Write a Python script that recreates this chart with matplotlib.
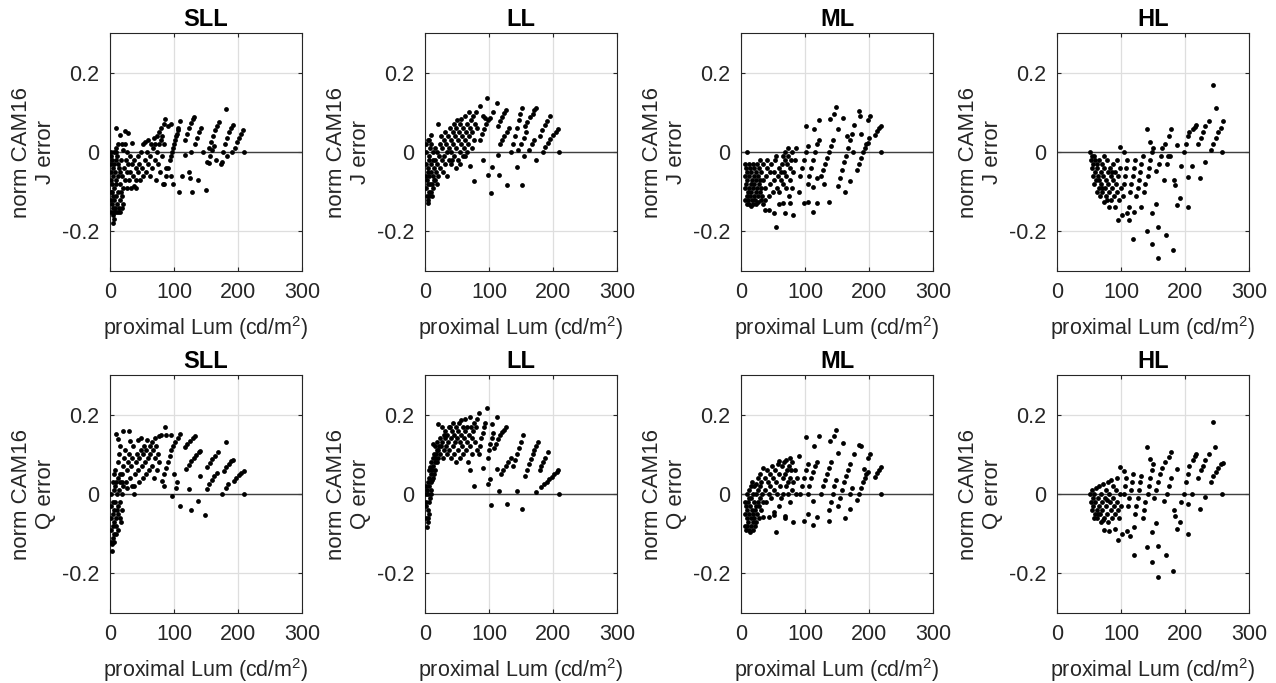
import numpy as np
import matplotlib
matplotlib.use('Agg')
import matplotlib.pyplot as plt

plt.rcParams['font.family'] = ['Liberation Sans', 'DejaVu Sans']
plt.rcParams['mathtext.fontset'] = 'custom'
plt.rcParams['mathtext.rm'] = 'Liberation Sans'
plt.rcParams['mathtext.it'] = 'Liberation Sans'

titles = ['SLL', 'LL', 'ML', 'HL']
ylabels = ['norm CAM16\nJ error', 'norm CAM16\nQ error']
xlabel = r'proximal Lum (cd/m$^2$)'
xticks = [0, 100, 200, 300]
yticks = [-0.2, 0, 0.2]

# (proximal luminance, normalised error) pairs
sll_j = [(1,0.0),(2,-0.01),(1,-0.03),(3,-0.02),(2,-0.05),(1,-0.07),(3,-0.08),(2,-0.10),(1,-0.12),(3,-0.13),
         (4,-0.16),(2,-0.15),(5,-0.18),(6,-0.17),(4,-0.11),(5,-0.06),(6,-0.03),(7,-0.09),(6,-0.12),(8,-0.14),
         (9,-0.15),(8,-0.05),(9,-0.08),(10,-0.11),(10,-0.02),(11,-0.13),(12,-0.06),(12,-0.15),(13,-0.10),(14,-0.04),
         (14,-0.14),(15,-0.12),(16,-0.08),(16,-0.15),(17,-0.02),(18,-0.11),(18,-0.14),(19,-0.06),(20,-0.09),(20,-0.13),
         (7,0.0),(9,0.0),(11,-0.01),(13,-0.03),(4,-0.04),(3,-0.10),(5,-0.14),(7,-0.15),(10,-0.07),(15,-0.05),(17,-0.10),
         (10,0.061),(16,0.044),(23,0.052),(28,0.048),(34,0.023),(18,0.019),(23,0.019),(13,0.02),(9,0.01),(27,0.0),(21,0.005),
         (22,-0.04),(24,-0.07),(25,-0.02),(26,-0.09),(27,-0.05),(28,-0.03),(30,-0.07),(31,-0.01),(32,-0.05),(33,-0.09),
         (35,-0.03),(36,-0.06),(38,-0.085),(38,-0.02),(40,-0.04),(41,-0.07),(41,-0.09),(43,-0.01),(44,-0.05),(46,-0.03),
         (47,-0.07),(48,0.0),(50,-0.04),(51,0.02),(52,-0.06),(54,-0.02),(55,0.025),(56,-0.05),(58,0.0),(59,-0.03),
         (60,0.03),(62,-0.06),(63,-0.01),(64,0.02),(66,-0.04),(67,0.01),(68,0.035),(70,-0.02),(71,0.02),(72,-0.07),
         (73,0.04),(74,0.0),(75,-0.03),(76,0.05),(77,0.02),(78,-0.05),(79,0.03),(80,0.06),(81,-0.01),(82,0.04),
         (83,-0.08),(84,0.07),(86,0.082),(85,0.02),(88,-0.04),(90,0.065),(96,0.07),
         (85,-0.08),(88,-0.06),(91,-0.04),(94,-0.02),(97,0.0),(100,0.02),(103,0.04),(106,0.055),(110,0.078),
         (95,-0.01),(98,0.01),(101,0.03),(104,0.045),(107,0.06),
         (96,-0.06),(99,-0.08),(108,-0.1),(112,-0.06),(123,-0.05),(125,-0.065),(128,-0.1),(138,-0.07),(150,-0.097),
         (117,-0.008),(127,0.0),
         (117,0.03),(120,0.045),(123,0.06),(126,0.072),(129,0.083),(132,0.089),
         (133,0.02),(136,0.035),(139,0.05),(142,0.06),(145,0.0),
         (152,-0.025),(155,0.01),(158,0.025),(161,0.04),(164,0.055),(167,0.065),(170,0.075),
         (154,-0.028),(157,-0.01),(160,0.005),(163,0.014),(165,-0.02),(175,-0.024),
         (174,-0.03),(177,0.0),(180,0.02),(183,0.035),(186,0.05),(189,0.06),(192,0.068),(181,0.108),
         (196,0.01),(199,0.025),(202,0.035),(205,0.045),(208,0.055),(210,0.0),(183,-0.01),(190,0.0)]

ll_j = [(1,0.0),(1,-0.03),(2,-0.06),(1,-0.09),(3,-0.11),(4,-0.128),(5,-0.12),(3,-0.07),(2,0.02),(4,0.03),
        (5,-0.04),(6,-0.1),(6,-0.01),(7,-0.06),(7,-0.11),(8,0.01),(8,-0.08),(9,-0.03),(9,-0.1),(10,-0.05),
        (10,0.02),(11,-0.08),(12,-0.02),(12,-0.06),(13,0.0),(13,-0.09),(14,-0.04),(15,-0.07),(15,0.01),(16,-0.02),
        (17,-0.05),(18,-0.08),(18,0.0),(19,-0.03),(20,-0.06),(10,0.044),(6,0.03),(21,0.07),(4,-0.05),(7,-0.02),
        (11,-0.11),(5,-0.08),(14,-0.07),
        (22,-0.01),(23,0.02),(24,-0.04),(25,0.04),(26,-0.02),(27,0.01),(28,-0.05),(29,0.03),(30,-0.01),(31,0.05),
        (32,-0.03),(33,0.02),(34,0.0),(35,-0.06),(36,0.04),(37,0.01),(38,-0.02),(39,0.06),(40,0.03),(41,0.0),
        (42,-0.02),(43,0.05),(44,0.02),(45,0.07),(46,-0.01),(47,0.04),(48,0.01),(49,0.06),(50,0.08),(51,0.03),
        (52,-0.02),(53,0.05),(54,0.0),(55,0.07),(56,0.02),(57,0.082),(58,0.04),(59,-0.01),(60,0.06),(61,0.01),
        (62,0.09),(63,0.03),(64,0.05),(65,0.0),(66,0.07),(67,0.02),(68,0.1),(69,0.04),(70,0.06),(72,0.08),
        (73,0.01),(74,0.05),(75,0.09),(76,0.03),(78,0.07),(80,0.1),(82,0.06),
        (86,0.116),(97,0.137),(112,0.123),(107,0.1),(90,0.09),(93,0.085),
        (86,0.03),(89,0.045),(92,0.058),(95,0.07),(98,0.08),(101,0.086),
        (114,0.065),(117,0.078),(120,0.088),(123,0.098),(127,0.107),
        (117,0.02),(120,0.03),(124,0.04),(128,0.05),(132,0.06),
        (138,0.02),(141,0.04),(144,0.06),(147,0.08),(149,0.095),(151,0.11),
        (146,0.005),(150,0.02),(154,0.035),(158,0.05),
        (156,0.065),(160,0.076),(164,0.087),(168,0.097),(171,0.105),(174,0.111),
        (163,0.005),(167,0.02),(171,0.03),
        (179,0.04),(183,0.055),(187,0.067),(191,0.078),(195,0.09),
        (184,0.0),(188,0.012),(192,0.022),(196,0.032),(200,0.042),(204,0.05),(208,0.057),(210,0.0),
        (70,-0.036),(76,-0.074),(90,-0.02),(99,-0.057),(104,-0.039),(103,-0.104),(116,-0.059),(128,-0.084),
        (144,-0.039),(152,-0.083),(174,-0.021),(154,-0.009),(114,-0.008),(135,0.0),(62,-0.01),(55,-0.03),
        (48,-0.04),(40,-0.03)]

ml_j = [(9,0.0),
        (6,-0.03),(6,-0.06),(7,-0.09),(7,-0.12),(8,-0.04),(8,-0.08),(9,-0.11),(9,-0.13),(10,-0.05),(10,-0.07),
        (11,-0.10),(11,-0.12),(12,-0.03),(12,-0.09),(13,-0.06),(13,-0.13),(14,-0.04),(14,-0.11),(15,-0.08),(15,-0.135),
        (16,-0.05),(16,-0.1),(17,-0.12),(17,-0.07),(18,-0.03),(18,-0.09),(19,-0.13),(20,-0.06),(20,-0.11),(21,-0.04),
        (21,-0.08),(22,-0.12),(23,-0.1),(23,-0.05),(24,-0.07),(24,-0.13),(25,-0.03),(25,-0.09),(26,-0.11),(27,-0.06),
        (27,-0.125),(28,-0.04),(28,-0.08),(29,-0.1),(30,-0.02),(30,-0.07),(31,-0.12),(32,-0.05),(32,-0.09),(33,-0.11),
        (34,-0.03),(34,-0.07),(35,-0.13),
        (37,-0.12),(38,-0.09),(39,-0.06),(40,-0.04),(41,-0.02),(44,-0.11),(45,-0.08),(46,-0.05),(47,-0.03),(50,-0.1),
        (51,-0.07),(52,-0.05),(53,-0.02),(55,-0.01),(57,-0.09),(58,-0.06),(59,-0.04),(60,-0.1),(62,-0.07),(63,-0.05),
        (64,-0.03),(65,-0.01),(66,-0.08),(67,-0.05),(68,-0.02),(69,0.0),(70,-0.09),(71,-0.06),(72,-0.03),(73,-0.01),
        (74,0.01),(75,-0.11),(76,-0.07),(77,-0.04),(78,-0.02),(79,0.0),(80,-0.09),(82,-0.05),(84,-0.02),(86,0.01),
        (38,-0.146),(44,-0.146),(52,-0.153),(55,-0.188),(69,-0.153),(81,-0.159),(65,-0.129),(76,-0.129),(98,-0.129),
        (104,-0.127),(113,-0.15),(118,-0.129),(137,-0.125),(163,-0.102),(171,-0.073),(112,-0.089),(118,-0.066),
        (90,-0.1),(60,-0.13),
        (92,-0.06),(95,-0.04),(98,-0.02),(101,0.0),(104,0.015),
        (101,0.065),(114,0.057),(122,0.08),(139,0.082),(149,0.114),(145,0.096),(160,0.086),(151,0.057),(176,0.069),
        (184,0.103),(186,0.09),(202,0.09),(199,0.08),
        (104,-0.08),(107,-0.06),(110,-0.04),(113,-0.02),(116,0.0),(119,0.02),(122,0.03),
        (125,-0.06),(128,-0.045),(131,-0.03),(134,-0.015),(137,0.0),(140,0.015),(143,0.03),(130,-0.08),
        (152,-0.085),(155,-0.065),(158,-0.045),(161,-0.025),(164,-0.01),(167,0.01),(170,0.03),(173,0.045),
        (181,-0.045),(184,-0.03),(187,-0.015),(190,0.0),(193,0.01),(196,0.02),(199,0.023),
        (210,0.044),(213,0.052),(216,0.06),(218,0.065),(218,0.0),(175,0.0),(165,0.04),(188,0.045),(200,0.035)]

hl_j = [(52,0.0),(53,-0.02),(54,-0.04),(55,-0.01),(56,-0.06),(57,-0.03),(58,-0.08),(59,-0.05),(60,-0.02),(61,-0.07),
        (62,-0.1),(63,-0.04),(64,-0.06),(65,-0.09),(66,-0.02),(67,-0.11),(68,-0.05),(69,-0.08),(70,-0.03),(71,-0.1),
        (72,-0.06),(73,-0.127),(74,-0.04),(75,-0.09),(76,-0.07),(77,-0.11),(78,-0.02),(79,-0.05),(80,-0.08),(81,-0.138),
        (82,-0.1),(83,-0.04),(84,-0.06),(85,-0.12),(86,-0.09),(87,-0.03),(88,-0.07),(89,-0.11),(90,-0.139),(91,-0.05),
        (92,-0.08),(93,-0.02),(94,-0.1),(95,-0.171),(96,-0.06),(97,-0.12),(98,0.013),(99,-0.04),(100,-0.09),(58,-0.01),
        (62,-0.03),(66,-0.07),(70,-0.09),(74,-0.01),(78,-0.12),(86,-0.05),
        (102,-0.159),(105,0.0),(103,-0.11),(104,-0.08),(106,-0.06),(108,-0.04),(109,-0.154),(110,-0.02),(112,-0.138),
        (113,-0.171),(114,-0.1),(116,-0.08),(118,-0.06),(119,-0.22),(120,-0.04),(121,-0.15),(122,-0.02),(124,-0.11),
        (126,-0.09),(128,-0.07),(130,-0.05),(131,-0.138),(132,-0.03),(134,-0.01),(136,-0.1),(138,-0.08),(140,0.057),
        (140,-0.198),(142,-0.06),(144,-0.04),(145,0.025),(146,-0.02),(148,0.0),(149,-0.154),(149,-0.232),(150,0.01),
        (154,-0.132),(154,-0.049),(158,-0.19),(158,-0.268),(160,-0.03),(162,-0.01),(164,0.01),(167,-0.07),(168,0.02),
        (171,-0.209),(172,-0.03),(174,-0.01),(175,0.041),(177,-0.011),(178,0.057),(181,-0.246),(183,-0.07),(185,-0.083),
        (187,0.017),(188,-0.133),(192,-0.115),(193,-0.036),(198,0.0),(201,0.02),(204,0.04),(204,-0.062),(205,-0.138),
        (207,0.05),(211,-0.036),(212,0.057),(215,0.063),(217,0.069),(220,0.02),(223,-0.066),(225,0.035),(228,0.05),
        (232,-0.026),(232,0.065),(238,0.078),(240,0.006),(243,0.168),(244,0.02),(248,0.11),(248,0.035),(252,0.05),
        (256,0.06),(258,0.0),(260,0.078)]

sll_q = [(1,0.0),(1,-0.03),(2,-0.06),(2,-0.09),(3,-0.126),(3,-0.143),(4,-0.11),(4,-0.02),(5,-0.05),(5,-0.08),
         (6,0.01),(6,-0.1),(7,-0.04),(7,-0.07),(8,0.02),(8,-0.02),(9,-0.06),(10,0.03),(10,-0.08),(11,0.0),
         (11,-0.04),(12,-0.03),(12,0.04),(13,-0.05),(14,0.01),(15,-0.06),(15,0.03),(16,-0.02),(17,-0.07),(18,0.0),
         (19,-0.04),(20,0.02),(2,-0.12),(6,-0.12),(9,-0.1),(13,-0.09),
         (4,0.03),(6,0.05),(8,0.06),(10,0.151),(13,0.139),(21,0.16),(29,0.16),(31,0.134),(12,0.08),(14,0.1),
         (16,0.12),(18,0.05),(20,0.07),(22,0.09),(24,0.11),(25,0.03),(26,0.06),(28,0.08),(30,0.1),(32,0.04),
         (33,0.07),(35,0.09),(36,0.12),(38,0.02),(39,0.05),(40,0.08),(42,0.1),(43,0.135),(44,0.06),(45,0.03),
         (46,0.09),(48,0.11),(49,0.14),(50,0.07),(51,0.04),(52,0.1),(53,0.12),(55,0.08),(56,0.05),(57,0.11),
         (58,0.135),(60,0.09),(61,0.06),(62,0.12),(63,0.1),(65,0.07),(66,0.13),(67,0.11),(68,0.04),(70,0.09),
         (71,0.14),(72,0.12),(73,0.06),(75,0.1),(76,0.145),(77,0.08),(15,0.05),(27,0.015),(34,0.02),(37,0.0),(18,0.03),
         (86,0.17),(79,0.148),(87,0.148),(95,0.148),
         (81,0.034),(84,0.05),(87,0.065),(90,0.08),(93,0.095),(96,0.11),(99,0.12),(102,0.13),(106,0.14),(110,0.151),
         (117,0.118),(121,0.126),(125,0.133),(129,0.14),(133,0.147),
         (119,0.063),(123,0.072),(127,0.082),(131,0.09),(135,0.098),(139,0.105),(141,0.109),
         (123,0.013),(140,0.046),(97,-0.004),(103,0.015),(85,0.02),(100,0.05),(105,0.03),
         (152,0.067),(156,0.078),(160,0.087),(164,0.096),(168,0.105),
         (151,0.013),(155,0.025),(159,0.035),(163,0.045),(167,0.052),
         (175,0.0),(182,0.13),(178,0.059),(182,0.068),(186,0.076),(189,0.082),(192,0.086),(181,0.015),(185,0.025),
         (193,0.034),(197,0.041),(201,0.048),(205,0.053),(209,0.058),(210,0.0),
         (109,-0.029),(126,-0.04),(138,-0.017),(149,-0.053)]

ll_q = [(1,0.0),(1,-0.03),(2,-0.06),(3,-0.084),(2,-0.02),(3,0.01),(4,-0.04),(4,0.03),(5,-0.07),(5,0.0),
        (6,0.04),(6,-0.02),(7,0.06),(7,0.02),(8,0.067),(8,-0.01),(9,0.05),(9,0.03),(10,0.08),(10,0.01),
        (11,0.06),(12,0.09),(12,0.04),(13,0.126),(13,0.07),(14,0.1),(15,0.08),(15,0.12),(16,0.06),(17,0.1),
        (18,0.11),(18,0.08),(19,0.13),(20,0.09),(21,0.176),(21,0.11),(22,0.12),(23,0.1),(24,0.14),(25,0.12),
        (26,0.168),(27,0.13),(28,0.09),(29,0.15),(30,0.11),(31,0.14),(32,0.16),(33,0.12),(34,0.1),(35,0.15),
        (36,0.13),(37,0.17),(38,0.11),(39,0.17),(40,0.14),(41,0.09),(42,0.16),(43,0.12),(44,0.18),(45,0.15),
        (46,0.1),(47,0.13),(48,0.17),(49,0.08),(50,0.14),(51,0.16),(52,0.11),(53,0.18),(54,0.13),(55,0.09),
        (56,0.15),(57,0.187),(58,0.12),(59,0.17),(60,0.1),(61,0.14),(62,0.16),(63,0.19),(64,0.11),(65,0.13),
        (66,0.17),(67,0.08),(68,0.15),(70,0.193),(70,0.06),(71,0.12),(72,0.17),(73,0.14),(74,0.1),(75,0.16),
        (76,0.021),(76,0.18),(78,0.13),(80,0.17),(81,0.11),(82,0.19),(4,-0.06),(6,-0.05),(2,0.02),(11,0.035),
        (14,0.05),(16,0.09),(9,0.0),
        (85,0.203),(97,0.218),(112,0.193),(105,0.176),(90,0.066),(99,0.025),(113,0.063),(102,0.038),(116,0.008),(144,0.008),
        (84,0.1),(86,0.12),(88,0.14),(90,0.155),(92,0.17),(94,0.18),
        (98,0.09),(100,0.11),(102,0.125),(104,0.14),(106,0.155),
        (108,0.115),(111,0.127),(114,0.138),(117,0.148),(120,0.156),(124,0.162),(127,0.168),
        (118,0.05),(122,0.06),(126,0.07),(130,0.08),(134,0.09),
        (138,0.07),(141,0.085),(144,0.1),(147,0.115),(150,0.13),(153,0.15),
        (156,0.045),(159,0.06),(162,0.075),(165,0.088),(168,0.1),(171,0.112),(174,0.122),(177,0.13),(174,0.004),
        (179,0.06),(182,0.07),(185,0.08),(188,0.09),(192,0.105),
        (182,0.017),(186,0.024),(190,0.03),(194,0.037),(198,0.044),(202,0.05),(206,0.056),(208,0.06),(210,0.0),
        (103,-0.027),(128,-0.025),(152,-0.039)]

ml_q = [(6,-0.02),(6,-0.05),(7,-0.08),(8,-0.03),(8,-0.09),(9,0.0),(9,-0.06),(10,-0.04),(10,-0.08),(11,-0.02),
        (11,-0.07),(12,0.01),(12,-0.05),(13,-0.09),(14,-0.097),(14,-0.03),(15,0.02),(15,-0.06),(16,-0.01),(16,-0.08),
        (17,0.03),(17,-0.04),(18,-0.07),(19,0.0),(19,-0.05),(20,-0.02),(20,-0.06),(21,0.02),(22,-0.04),(22,-0.08),
        (23,0.0),(23,-0.03),(24,0.025),(25,-0.05),(26,0.01),(26,-0.02),(27,0.04),(28,-0.03),(29,0.02),(30,-0.01),
        (30,0.05),(31,-0.04),(32,0.03),(33,0.0),(34,0.065),(34,-0.02),(35,-0.059),(13,-0.01),(18,-0.09),(24,-0.07),
        (28,-0.06),
        (37,0.04),(38,0.01),(39,-0.02),(40,0.06),(42,0.03),(43,0.0),(44,-0.059),(45,0.05),(46,0.02),(47,-0.01),
        (48,0.07),(50,0.04),(51,-0.052),(52,0.01),(53,0.06),(55,-0.097),(55,0.03),(56,0.0),(58,0.075),(60,0.084),
        (60,0.05),(61,0.02),(62,-0.01),(64,0.07),(65,0.04),(66,0.0),(67,0.08),(68,0.05),(69,-0.056),(70,0.02),
        (71,0.085),(72,0.06),(73,0.03),(74,0.0),(75,0.07),(76,0.09),(77,0.04),(78,0.06),(79,0.01),(80,0.08),
        (81,-0.071),(82,0.03),(84,0.06),(86,0.0),(88,0.04),(90,0.097),
        (102,0.143),(122,0.147),(114,0.122),(139,0.134),(149,0.162),(145,0.145),(151,0.103),(160,0.128),(176,0.101),
        (184,0.124),(187,0.12),(192,0.063),(202,0.101),(199,0.09),
        (98,-0.067),(104,-0.05),(113,-0.077),(118,-0.059),(137,-0.067),(163,-0.061),(171,-0.039),(112,-0.017),
        (52,-0.045),(69,-0.06),(60,-0.03),(76,-0.02),
        (92,0.0),(95,0.02),(98,0.04),(101,0.06),(104,0.075),
        (104,0.0),(107,0.02),(110,0.04),(113,0.055),(116,0.07),(119,0.08),
        (125,0.0),(128,0.02),(131,0.035),(134,0.05),(137,0.065),(140,0.08),
        (137,-0.04),(140,-0.02),(143,0.0),(146,0.02),(149,0.035),
        (152,-0.03),(155,-0.01),(158,0.01),(161,0.03),(164,0.045),(167,0.06),(170,0.075),(170,0.0),(174,0.015),
        (181,-0.015),(184,0.0),(187,0.015),(190,0.03),(193,0.04),(196,0.05),(199,0.055),
        (210,0.044),(213,0.052),(216,0.06),(218,0.068),(218,0.0)]

hl_q = [(52,0.0),(53,-0.02),(54,0.01),(55,-0.04),(56,-0.01),(57,-0.03),(58,0.0),(59,-0.05),(60,-0.02),(61,0.015),
        (62,-0.04),(63,-0.06),(64,-0.01),(65,-0.03),(66,0.02),(67,-0.05),(68,-0.07),(69,0.0),(70,-0.02),(71,-0.04),
        (72,0.025),(73,-0.092),(74,-0.06),(75,-0.01),(76,0.01),(77,-0.03),(78,-0.05),(79,0.03),(80,-0.07),(81,-0.094),
        (82,0.0),(83,-0.02),(84,-0.04),(85,0.035),(86,-0.06),(87,-0.01),(88,0.02),(89,-0.03),(90,-0.088),(91,-0.05),
        (92,0.01),(93,-0.02),(94,0.04),(95,-0.116),(96,-0.04),(97,-0.06),(98,0.0),(99,0.067),(100,-0.03),(58,-0.06),
        (64,-0.05),(72,-0.065),(78,-0.015),
        (102,-0.101),(104,0.0),(105,0.059),(106,0.02),(108,0.04),(110,-0.094),(111,-0.03),(113,-0.01),(114,-0.107),
        (115,0.01),(117,0.03),(119,0.05),(120,-0.155),(121,-0.084),(122,-0.05),(124,-0.03),(126,-0.01),(128,0.01),
        (130,0.03),(132,0.045),(134,-0.06),(136,-0.04),(138,-0.02),(140,0.118),(140,-0.134),(142,0.0),(144,0.02),
        (145,0.088),(146,0.04),(148,0.06),(149,-0.171),(149,-0.097),(150,0.075),(152,-0.01),(154,-0.073),(155,0.01),
        (158,-0.208),(158,-0.132),(158,0.03),(161,0.05),(164,0.065),(167,-0.017),(168,0.08),(171,-0.153),(172,0.0),
        (175,0.094),(175,0.02),(178,0.107),(178,0.04),(181,-0.193),(183,-0.04),(185,-0.055),(187,0.063),(188,-0.088),
        (192,-0.071),(193,-0.02),(198,0.0),(201,0.03),(204,0.05),(204,-0.024),(205,-0.101),(207,0.07),(211,0.0),
        (212,0.085),(215,0.095),(217,0.1),(220,0.04),(223,-0.038),(225,0.06),(228,0.07),(232,-0.007),(232,0.085),
        (238,0.1),(240,0.03),(243,0.181),(244,0.045),(247,0.119),(248,0.055),(252,0.065),(256,0.075),(258,0.0),
        (260,0.077)]

panels = [[sll_j, ll_j, ml_j, hl_j], [sll_q, ll_q, ml_q, hl_q]]

W, H = 1276, 683
fig = plt.figure(figsize=(W / 100, H / 100), dpi=100)
lefts = [110, 425, 741, 1057]
tops = [33, 375]
aw, ah = 192, 238

for r in range(2):
    for c in range(4):
        ax = fig.add_axes([lefts[c] / W, 1 - (tops[r] + ah) / H, aw / W, ah / H])
        pts = np.array(panels[r][c])
        ax.grid(True, color='#dedede', linewidth=0.9)
        ax.set_axisbelow(True)
        ax.axhline(0, color='#404040', linewidth=1.0, zorder=1)
        ax.scatter(pts[:, 0], pts[:, 1], s=12, c='black', linewidths=0, zorder=3)
        ax.set_xlim(0, 300)
        ax.set_ylim(-0.3, 0.3)
        ax.set_xticks(xticks)
        ax.set_yticks(yticks)
        ax.set_yticklabels(['-0.2', '0', '0.2'])
        ax.tick_params(direction='in', length=3, width=0.8, top=True, right=True,
                       labelsize=15.5, colors='#262626', pad=8)
        for sp in ax.spines.values():
            sp.set_color('#262626')
            sp.set_linewidth(0.8)
        ax.set_title(titles[c], fontsize=17, fontweight='bold', pad=5)
        ax.set_xlabel(xlabel, fontsize=15.5, color='#262626', labelpad=8)
        ax.set_ylabel(ylabels[r], fontsize=16, color='#262626', labelpad=4)

fig.savefig('out.png', dpi=100)
